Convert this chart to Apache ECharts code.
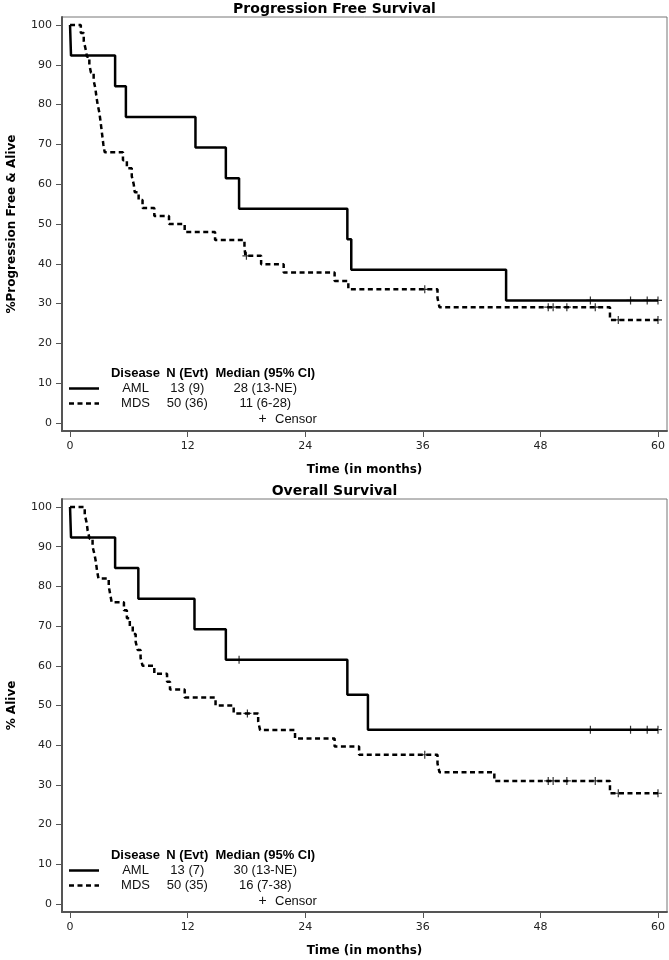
<!DOCTYPE html>
<html>
<head>
<meta charset="utf-8">
<script src="https://cdn.jsdelivr.net/npm/echarts@6/dist/echarts.min.js"></script>
<style>
html,body{margin:0;padding:0;background:#fff}
#c{width:669px;height:960px}
</style>
</head>
<body>
<div id="c"></div>
<script>
// ---------- data ----------
const timeTicks = [0, 12, 24, 36, 48, 60];
const pctTicks = [0, 10, 20, 30, 40, 50, 60, 70, 80, 90, 100];

const chartTitles = ['Progression Free Survival', 'Overall Survival'];
const yAxisTitles = ['%Progression Free & Alive', '% Alive'];
const xAxisTitle = 'Time (in months)';

// Progression free survival: [time, % after the event]
const pfsAML = [[0,100],[0.1,92.3],[4.6,84.6],[5.7,76.9],[12.8,69.2],[15.9,61.5],[17.25,53.8],[28.3,46.2],[28.7,38.5],[44.5,30.8],[60,30.8]];
const pfsAMLCensor = [53.1, 57.2, 58.9, 60];
const pfsMDS = [[0,100],[1.1,98],[1.4,96],[1.58,94],[1.73,92],[1.97,90],[2.14,88],[2.41,86],[2.59,84],[2.69,82],[2.82,80],[2.99,78],[3.1,76],[3.2,74],[3.3,72],[3.4,70],[3.54,68],[5.4,66],[5.8,64],[6.3,62],[6.5,60],[6.6,58],[7.0,56],[7.4,54],[8.6,52],[10.1,50],[11.7,48],[14.8,46],[17.8,44],[17.9,42],[19.5,39.9],[21.8,37.8],[27.0,35.7],[28.4,33.6],[37.5,31.4],[37.7,29.1],[55.1,25.9],[60,25.9]];
const pfsMDSCensor = [18.0, 36.2, 48.8, 49.3, 50.7, 53.6, 55.95, 60];

// Overall survival
const osAML = [[0,100],[0.1,92.3],[4.6,84.6],[6.97,76.9],[12.7,69.2],[15.9,61.5],[28.3,52.7],[30.4,43.9],[60,43.9]];
const osAMLCensor = [17.25, 53.1, 57.2, 58.9, 60];
const osMDS = [[0,100],[1.5,98],[1.7,96],[1.8,94],[2.0,92],[2.3,90],[2.5,88],[2.65,86],[2.75,84],[2.9,82],[3.95,80],[4.1,78],[4.25,76],[5.5,74],[5.8,72],[6.1,70],[6.4,68],[6.7,66],[6.9,64],[7.2,62],[7.4,60],[8.6,58],[9.9,56],[10.2,54],[11.7,52],[14.85,50],[16.7,48],[19.2,45.9],[19.4,43.8],[22.96,41.7],[27.0,39.65],[29.5,37.6],[37.5,35.4],[37.7,33.2],[43.3,31.0],[55.1,27.9],[60,27.9]];
const osMDSCensor = [18.1, 36.2, 48.8, 49.3, 50.7, 53.6, 55.95, 60];

const legendHeader = ['Disease', 'N (Evt)', 'Median (95% CI)'];
const pfsLegendRows = [['AML', '13 (9)', '28 (13-NE)'], ['MDS', '50 (36)', '11 (6-28)']];
const osLegendRows = [['AML', '13 (7)', '30 (13-NE)'], ['MDS', '50 (35)', '16 (7-38)']];
const censorLabel = 'Censor';

// ---------- helpers ----------
function levelAt(curve, t) {
  let v = curve[0][1];
  for (const p of curve) { if (p[0] <= t) v = p[1]; }
  return v;
}
function censorPoints(curve, times) {
  return times.map(t => [t, levelAt(curve, t)]);
}

const FONT = '"DejaVu Sans", sans-serif';
const LFONT = '"Liberation Sans", Arial, sans-serif';
const plusPath = 'path://M3.4,0H4.6V8H3.4ZM0,3.4H8V4.6H0Z';
const dash = [5, 3.5];

const grids = [
  { left: 62, top: 17, width: 605, height: 414 },
  { left: 62, top: 499, width: 605, height: 413 }
];

function makeX(i) {
  return {
    type: 'value', gridIndex: i, min: -0.82, max: 60.92,
    splitLine: { show: false },
    axisLine: { show: true, onZero: false, lineStyle: { color: '#555', width: 2 } },
    axisTick: { show: true, customValues: timeTicks, length: 6, lineStyle: { color: '#555', width: 1 } },
    axisLabel: { customValues: timeTicks, fontFamily: FONT, fontSize: 11, color: '#222', margin: 10 },
    name: xAxisTitle, nameLocation: 'middle', nameGap: 33,
    nameTextStyle: { fontFamily: FONT, fontSize: 12, fontWeight: 'bold', color: '#000' }
  };
}
function makeY(i) {
  return {
    type: 'value', gridIndex: i, min: -2, max: 102,
    splitLine: { show: false },
    axisLine: { show: true, onZero: false, lineStyle: { color: '#555', width: 2 } },
    axisTick: { show: true, customValues: pctTicks, length: 6, lineStyle: { color: '#555', width: 1 } },
    axisLabel: { customValues: pctTicks, fontFamily: FONT, fontSize: 11, color: '#222', margin: 10 },
    name: yAxisTitles[i], nameLocation: 'middle', nameGap: 44,
    nameTextStyle: { fontFamily: FONT, fontSize: 12, fontWeight: 'bold', color: '#000' }
  };
}
function curveSeries(data, i, dashed) {
  return {
    type: 'line', step: 'end', data: data, xAxisIndex: i, yAxisIndex: i,
    symbol: 'none', silent: true, z: 3,
    lineStyle: { color: '#000', width: 2.5, type: dashed ? dash : 'solid' }
  };
}
function censorSeries(data, i) {
  return {
    type: 'scatter', data: data, xAxisIndex: i, yAxisIndex: i,
    symbol: plusPath, symbolSize: 8, silent: true, z: 4,
    itemStyle: { color: '#000' }
  };
}

function legendGraphics(gridTop, rows) {
  const rowY = [356, 371.5, 386.5, 402].map(v => v + gridTop);
  const cols = [135.5, 187.3, 265.3];
  const els = [];
  legendHeader.forEach((t, c) => els.push({
    type: 'text', x: cols[c], y: rowY[0],
    style: { text: t, fill: '#000', font: 'bold 13px ' + LFONT, align: 'center', verticalAlign: 'middle' }
  }));
  rows.forEach((r, k) => {
    r.forEach((t, c) => els.push({
      type: 'text', x: cols[c], y: rowY[k + 1],
      style: { text: t, fill: '#111', font: '13px ' + LFONT, align: 'center', verticalAlign: 'middle' }
    }));
    els.push({
      type: 'line', shape: { x1: 69, y1: rowY[k + 1], x2: 99, y2: rowY[k + 1] },
      style: { stroke: '#000', lineWidth: 2.5, lineDash: k === 0 ? null : dash }
    });
  });
  els.push({
    type: 'text', x: 262.5, y: rowY[3],
    style: { text: '+', fill: '#111', font: '14px ' + LFONT, align: 'center', verticalAlign: 'middle' }
  });
  els.push({
    type: 'text', x: 275, y: rowY[3],
    style: { text: censorLabel, fill: '#111', font: '13px ' + LFONT, align: 'left', verticalAlign: 'middle' }
  });
  return els;
}

const chart = echarts.init(document.getElementById('c'), null, { renderer: 'canvas' });
chart.setOption({
  animation: false,
  backgroundColor: '#fff',
  title: [
    { text: chartTitles[0], left: 'center', top: 2, padding: 0,
      textStyle: { fontFamily: FONT, fontSize: 14, fontWeight: 'bold', color: '#000' } },
    { text: chartTitles[1], left: 'center', top: 484, padding: 0,
      textStyle: { fontFamily: FONT, fontSize: 14, fontWeight: 'bold', color: '#000' } }
  ],
  grid: grids.map(g => Object.assign({ show: true, borderColor: '#777', borderWidth: 1, containLabel: false, outerBoundsMode: 'none' }, g)),
  xAxis: [makeX(0), makeX(1)],
  yAxis: [makeY(0), makeY(1)],
  series: [
    curveSeries(pfsAML, 0, false),
    curveSeries(pfsMDS, 0, true),
    censorSeries(censorPoints(pfsAML, pfsAMLCensor), 0),
    censorSeries(censorPoints(pfsMDS, pfsMDSCensor), 0),
    curveSeries(osAML, 1, false),
    curveSeries(osMDS, 1, true),
    censorSeries(censorPoints(osAML, osAMLCensor), 1),
    censorSeries(censorPoints(osMDS, osMDSCensor), 1)
  ],
  graphic: legendGraphics(grids[0].top, pfsLegendRows).concat(legendGraphics(grids[1].top, osLegendRows))
});
</script>
</body>
</html>
